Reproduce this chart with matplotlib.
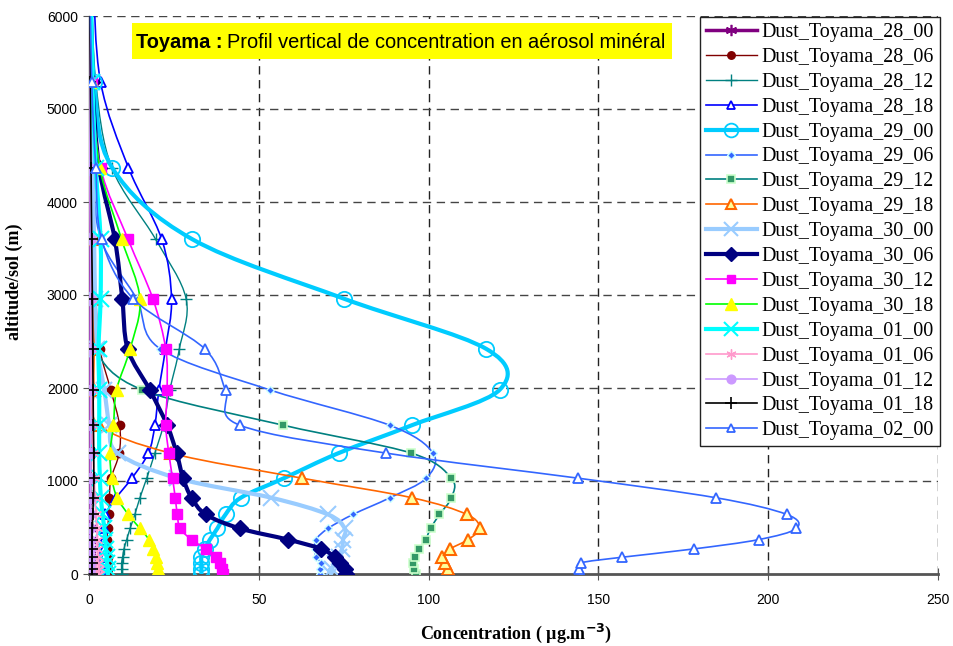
import numpy as np
import matplotlib
matplotlib.use("Agg")
import matplotlib.pyplot as plt
from matplotlib.path import Path
from matplotlib.patches import PathPatch, Rectangle
from matplotlib.lines import Line2D

# altitude levels (m above ground)
ALT = [0, 50, 120, 180, 270, 370, 490, 640, 820, 1030, 1300, 1600, 1980,
       2420, 2960, 3600, 4370, 5290, 6400]

# concentrations (ug/m3), bottom -> top
d28_00 = [0.2]*16 + [0.2, 0.2, 0.1]
d28_06 = [5.5, 5.6, 5.6, 5.5, 5.3, 5.3, 5.5, 5.8, 6.0, 6.5, 8.9, 9.0, 6.4,
          3.2, 2.0, 1.3, 0.8, 0.4, 0.2]
d28_12 = [9.6, 9.6, 9.6, 9.9, 10.3, 11.1, 12.1, 13.5, 15.0, 17.0, 19.4, 21.9,
          23.8, 26.6, 28.6, 19.6, 6.7, 2.0, 0.6]
d28_18 = [4.5, 4.5, 4.5, 4.5, 4.5, 4.5, 4.5, 4.8, 8.0, 12.6, 17.5, 19.4, 20.6,
          22.5, 24.3, 21.4, 11.6, 3.4, 1.2]
d29_00 = [33.1, 33.1, 33.1, 33.1, 34.1, 35.6, 37.8, 40.2, 44.7, 57.4, 73.5,
          95.1, 120.9, 117.0, 75.1, 30.4, 6.8, 1.5, 0.5]
d29_06 = [68.1, 68.0, 68.4, 66.8, 66.6, 66.8, 70.4, 77.7, 88.6, 99.3, 101.3,
          88.5, 53.2, 21.0, 14.0, 3.5, 1.2, 0.5, 0.2]
d29_12 = [96.2, 95.7, 95.4, 95.9, 97.2, 99.1, 100.6, 103.2, 106.7, 106.7, 94.9,
          57.2, 15.7, 1.8, 1.0, 0.7, 0.5, 0.3, 0.2]
d29_18 = [106.2, 105.7, 104.7, 104.0, 106.4, 111.6, 115.0, 111.3, 95.1, 62.8,
          24.0, 3.0, 1.5, 1.5, 1.5, 1.5, 0.8, 0.4, 0.2]
d30_00 = [71.4, 71.5, 72.4, 73.5, 74.5, 74.8, 75.3, 70.4, 53.7, 26.0, 8.4,
          6.0, 4.5, 2.5, 1.8, 1.5, 1.0, 0.5, 0.2]
d30_06 = [75.8, 75.3, 73.8, 72.4, 68.4, 58.6, 44.4, 34.4, 30.2, 27.7, 25.8,
          23.0, 17.9, 11.4, 9.8, 7.6, 3.0, 1.0, 0.4]
d30_12 = [39.5, 39.2, 38.5, 37.5, 34.4, 30.2, 26.8, 26.0, 25.4, 24.6, 23.5,
          22.6, 23.0, 22.6, 18.8, 11.5, 3.4, 1.0, 0.4]
d30_18 = [20.4, 20.3, 20.1, 19.7, 18.9, 17.7, 15.0, 11.6, 8.3, 6.7, 6.2, 7.2,
          8.1, 12.1, 15.0, 9.6, 3.2, 1.0, 0.4]
d01_00 = [5.5, 5.5, 5.3, 5.2, 5.0, 4.8, 4.5, 4.0, 3.5, 3.2, 3.0, 3.0, 3.0,
          2.8, 3.4, 3.4, 2.0, 1.0, 0.5]
d01_06 = [2.8, 2.8, 2.7, 2.6, 2.5, 2.4, 2.3, 2.0, 1.8, 1.5, 1.2, 1.0, 0.8,
          0.7, 0.6, 0.5, 0.4, 0.3, 0.2]
d01_12 = [0.4]*16 + [0.3, 0.3, 0.2]
d01_18 = [0.9, 0.9, 0.9, 0.9, 0.9, 0.9, 1.0, 1.1, 1.3, 1.4, 1.4, 1.3, 1.2,
          1.1, 1.0, 0.8, 0.6, 0.4, 0.2]
d02_00 = [144.9, 144.4, 144.9, 156.9, 178.2, 197.2, 208.3, 205.5, 184.6, 144.1,
          87.5, 44.4, 40.2, 34.1, 13.0, 3.7, 2.0, 0.8, 0.3]

NAMES = ["Dust_Toyama_28_00", "Dust_Toyama_28_06", "Dust_Toyama_28_12",
         "Dust_Toyama_28_18", "Dust_Toyama_29_00", "Dust_Toyama_29_06",
         "Dust_Toyama_29_12", "Dust_Toyama_29_18", "Dust_Toyama_30_00",
         "Dust_Toyama_30_06", "Dust_Toyama_30_12", "Dust_Toyama_30_18",
         "Dust_Toyama_01_00", "Dust_Toyama_01_06", "Dust_Toyama_01_12",
         "Dust_Toyama_01_18", "Dust_Toyama_02_00"]
DATA = [d28_00, d28_06, d28_12, d28_18, d29_00, d29_06, d29_12, d29_18,
        d30_00, d30_06, d30_12, d30_18, d01_00, d01_06, d01_12, d01_18, d02_00]

AST = (6, 2, 0)
# color, lw, marker, size, face, edge, mew
STY = [
    ("#800080", 2.5, AST, 9, "#800080", "#800080", 1.2),
    ("#800000", 1.0, "o", 6, "#800000", "#800000", 1.0),
    ("#008080", 1.0, "+", 9, "#008080", "#008080", 1.0),
    ("#0000FF", 1.2, "^", 7, "white", "#0000FF", 1.3),
    ("#00CCFF", 3.0, "o", 11, "none", "#00CCFF", 1.3),
    ("#3366FF", 1.2, "D", 4, "#3366FF", "#CCFFFF", 1.0),
    ("#008080", 1.2, "s", 6, "#339966", "#CCFFCC", 1.2),
    ("#FF6600", 1.2, "^", 8, "#FFFF99", "#FF6600", 1.5),
    ("#99CCFF", 3.0, "x", 11, "#99CCFF", "#99CCFF", 1.5),
    ("#000080", 3.0, "D", 8, "#000080", "#000080", 1.0),
    ("#FF00FF", 1.2, "s", 7, "#FF00FF", "#FF00FF", 1.0),
    ("#00FF00", 1.2, "^", 9, "#FFFF00", "#FFFF00", 1.0),
    ("#00FFFF", 3.0, "x", 11, "#00FFFF", "#00FFFF", 1.5),
    ("#FF99CC", 1.2, AST, 8, "#FF99CC", "#FF99CC", 1.0),
    ("#CC99FF", 1.2, "o", 7, "#CC99FF", "#CC99FF", 1.0),
    ("#000000", 1.2, "+", 9, "#000000", "#000000", 1.2),
    ("#3366FF", 1.2, "^", 7, "white", "#3366FF", 1.3),
]


def smooth_path(xs, ys):
    """Excel-like smoothed line: Catmull-Rom turned into cubic Bezier segments."""
    p = np.column_stack([xs, ys]).astype(float)
    n = len(p)
    verts = [p[0]]
    codes = [Path.MOVETO]
    for i in range(n - 1):
        p0 = p[max(i - 1, 0)]
        p1, p2 = p[i], p[i + 1]
        p3 = p[min(i + 2, n - 1)]
        verts += [p1 + (p2 - p0) / 6.0, p2 - (p3 - p1) / 6.0, p2]
        codes += [Path.CURVE4] * 3
    return Path(verts, codes)


W, H = 954, 646
fig = plt.figure(figsize=(W / 100, H / 100), dpi=100)
ax = fig.add_axes([89 / W, 1 - 574 / H, (938 - 89) / W, (574 - 16) / H])
ax.set_xlim(0, 250)
ax.set_ylim(0, 6000)

for k, (vals, st) in enumerate(zip(DATA, STY)):
    col, lw, mk, ms, fc, ec, mew = st
    patch = PathPatch(smooth_path(vals, ALT), fill=False, edgecolor=col, lw=lw,
                      zorder=3 + k * 0.01, capstyle="round", joinstyle="round")
    ax.add_patch(patch)
    ax.plot(vals, ALT, ls="none", marker=mk, ms=ms, mfc=fc, mec=ec, mew=mew,
            zorder=3 + k * 0.01 + 0.005, clip_on=True)

# grid
ax.set_xticks([0, 50, 100, 150, 200, 250])
ax.set_yticks(range(0, 6001, 1000))
for xv in [50, 100, 150, 200, 250]:
    ax.axvline(xv, color="#222222", lw=1.0, ls=(0, (6, 4)), zorder=1)
for yv in range(1000, 6001, 1000):
    ax.axhline(yv, color="#444444", lw=1.0, ls=(0, (6, 4)), zorder=1)

for s in ["top", "right"]:
    ax.spines[s].set_visible(False)
ax.spines["bottom"].set_color("#555555")
ax.spines["bottom"].set_linewidth(2.0)
ax.spines["bottom"].set_zorder(2)
ax.spines["left"].set_color("#555555")
ax.spines["left"].set_linewidth(1.0)
ax.tick_params(axis="x", direction="inout", length=8, color="#555555", pad=10,
               labelsize=10)
ax.tick_params(axis="y", direction="out", length=4, color="#555555", pad=4,
               labelsize=10)
for lab in ax.get_xticklabels() + ax.get_yticklabels():
    lab.set_family("Liberation Sans")

xl = ax.set_xlabel("Concentration ( µg.m$^{\\mathbf{-3}}$)", family="Liberation Serif",
                   fontweight="bold", fontsize=13)
xl.set_verticalalignment("center")
ax.xaxis.set_label_coords(0.503, -0.106)
yl = ax.set_ylabel("altitude/sol (m)", family="Liberation Serif", fontweight="bold",
                   fontsize=13)
yl.set_verticalalignment("center")
ax.yaxis.set_label_coords(-0.088, 0.523)

# legend
handles = [Line2D([], [], color=st[0], lw=st[1], marker=st[2], ms=st[3],
                  mfc=st[4], mec=st[5], mew=st[6]) for st in STY]
leg = ax.legend(handles, NAMES, loc="upper right",
                bbox_to_anchor=(940 / W, 1 - 17 / H), bbox_transform=fig.transFigure,
                prop={"family": "Liberation Serif", "size": 14.4},
                frameon=True, fancybox=False, framealpha=1, edgecolor="#222222",
                borderaxespad=0, handlelength=2.55, handletextpad=0.25,
                labelspacing=0.295, borderpad=0.3, markerscale=0.9)
leg.get_frame().set_linewidth(1.0)
leg.set_zorder(10)

# title box
fig.patches.append(Rectangle((132 / W, 1 - 59 / H), (672 - 132) / W, 36 / H,
                             transform=fig.transFigure, facecolor="#FFFF00",
                             edgecolor="none", zorder=5))
t1 = fig.text(136 / W, 1 - 42 / H, "Toyama :", family="Liberation Sans",
              fontweight="bold", fontsize=14.4, va="center", zorder=6)
fig.canvas.draw()
bb = t1.get_window_extent(fig.canvas.get_renderer())
fig.text(bb.x1 / W + 5 / W, 1 - 42 / H,
         "Profil vertical de concentration en aérosol minéral",
         family="Liberation Sans", fontsize=14.4, va="center", zorder=6)

fig.savefig("out.png", dpi=100)
